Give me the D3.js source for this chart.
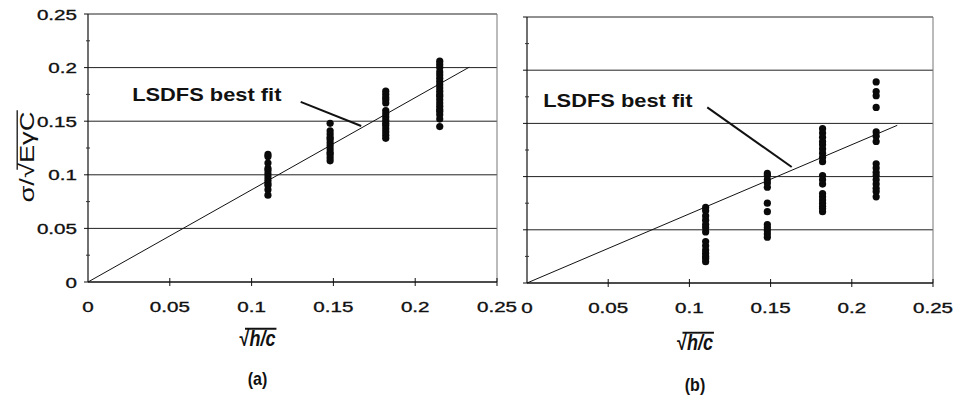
<!DOCTYPE html>
<html>
<head>
<meta charset="utf-8">
<script src="https://cdn.jsdelivr.net/npm/d3@7"></script>
<style>
body { margin: 0; background: #fff; }
text { font-family: "Liberation Sans", Arial, sans-serif; fill: #111; }
.tick-label { stroke: #111; stroke-width: 0.35; }
</style>
</head>
<body>
<div id="chart"></div>
<script>
// columns of sqrt(h/c) where the tests were run
const xColumns = [0.11, 0.148, 0.182, 0.215];

// panel (a) values, one list per column
const panelA = [
	[0.119, 0.117, 0.111, 0.106, 0.104, 0.101, 0.098, 0.095, 0.092, 0.090, 0.086, 0.081],
	[0.148, 0.141, 0.138, 0.135, 0.133, 0.130, 0.127, 0.124, 0.121, 0.119, 0.116, 0.113],
	[0.178, 0.175, 0.172, 0.170, 0.167, 0.160, 0.157, 0.154, 0.151, 0.148, 0.146, 0.143, 0.140, 0.137, 0.134],
	[0.206, 0.203, 0.200, 0.196, 0.193, 0.190, 0.187, 0.184, 0.181, 0.178, 0.175, 0.173, 0.170, 0.167, 0.164, 0.161, 0.159, 0.156, 0.152, 0.145]
];

// panel (b) values
const panelB = [
	[0.071, 0.068, 0.063, 0.059, 0.055, 0.052, 0.048, 0.039, 0.035, 0.031, 0.028, 0.025, 0.023, 0.020],
	[0.103, 0.101, 0.097, 0.094, 0.090, 0.075, 0.067, 0.055, 0.052, 0.049, 0.046, 0.043],
	[0.145, 0.141, 0.137, 0.133, 0.130, 0.126, 0.122, 0.118, 0.114, 0.101, 0.097, 0.093, 0.084, 0.081, 0.078, 0.075, 0.072, 0.070, 0.067],
	[0.189, 0.180, 0.176, 0.165, 0.142, 0.138, 0.133, 0.112, 0.108, 0.104, 0.101, 0.097, 0.093, 0.089, 0.086, 0.081]
];

// LSDFS best fit lines through the origin
const fitSlopes = [0.86, 0.65];
const fitEnds = [0.233, 0.228];

const xTicks = [0, 0.05, 0.1, 0.15, 0.2, 0.25];
const xTickLabels = ['0', '0.05', '0.1', '0.15', '0.2', '0.25'];
const yTicks = [0, 0.05, 0.1, 0.15, 0.2, 0.25];
const yTickLabels = ['0', '0.05', '0.1', '0.15', '0.2', '0.25'];
const panelNames = ['(a)', '(b)'];
const noteText = 'LSDFS best fit';

const width = 963, height = 403;
const stretch = 1.33;

const svg = d3.select('#chart').append('svg').attr('width', width).attr('height', height);

const panels = [
	{ data: panelA, x0: 88, x1: 497, y0: 282, y1: 14, showY: true,
		note: [0.027, 0.169], lead: [[0.130, 0.168], [0.167, 0.1455]], titleY: 346, nameY: 385 },
	{ data: panelB, x0: 527, x1: 933, y0: 283, y1: 17, showY: false,
		note: [0.010, 0.165], lead: [[0.111, 0.165], [0.163, 0.109]], titleY: 350, nameY: 391 }
];

// text with a square root sign whose bar runs over the part after it
function radicalText(g, before, under, size, bold, italicUnder){
	const t = g.append('text').attr('font-size', size).attr('font-weight', bold ? 'bold' : 'normal');
	t.append('tspan').text(before);
	t.append('tspan').text(under).attr('font-style', italicUnder ? 'italic' : 'normal');
	const node = t.node();
	const total = node.getComputedTextLength();
	const start = node.getSubStringLength(0, before.length - 1) + node.getSubStringLength(before.length - 1, 1) * 0.55;
	t.attr('x', -total / 2);
	g.append('line')
		.attr('x1', -total / 2 + start).attr('x2', total / 2 + 1)
		.attr('y1', -size * 0.8).attr('y2', -size * 0.8)
		.attr('stroke', '#111').attr('stroke-width', bold ? 1.6 : 1.3);
}

panels.forEach((p, k) => {
	const x = d3.scaleLinear().domain([0, 0.25]).range([p.x0, p.x1]);
	const y = d3.scaleLinear().domain([0, 0.25]).range([p.y0, p.y1]);
	const g = svg.append('g');

	// grid lines, the top one closes the box
	g.selectAll('.grid').data(yTicks.slice(1)).enter().append('line')
		.attr('x1', x(0)).attr('x2', x(0.25))
		.attr('y1', d => y(d)).attr('y2', d => y(d))
		.attr('stroke', '#222').attr('stroke-width', 1);

	g.append('line').attr('x1', x(0.25)).attr('x2', x(0.25)).attr('y1', y(0.25)).attr('y2', y(0))
		.attr('stroke', '#777').attr('stroke-width', 1);
	g.append('line').attr('x1', x(0)).attr('x2', x(0)).attr('y1', y(0.25)).attr('y2', y(0))
		.attr('stroke', '#111').attr('stroke-width', 1.2);
	g.append('line').attr('x1', x(0)).attr('x2', x(0.25)).attr('y1', y(0)).attr('y2', y(0))
		.attr('stroke', '#111').attr('stroke-width', 1.4);

	// ticks
	g.selectAll('.xt').data(xTicks.slice(1)).enter().append('line')
		.attr('x1', d => x(d)).attr('x2', d => x(d))
		.attr('y1', y(0) - 4).attr('y2', y(0) + 4)
		.attr('stroke', '#111');
	g.selectAll('.yt').data(yTicks).enter().append('line')
		.attr('x1', x(0) - 4).attr('x2', x(0))
		.attr('y1', d => y(d)).attr('y2', d => y(d))
		.attr('stroke', '#111');
	g.selectAll('.ym').data(d3.range(0.025, 0.25, 0.05)).enter().append('line')
		.attr('x1', x(0) - 2).attr('x2', x(0) + 2)
		.attr('y1', d => y(d)).attr('y2', d => y(d))
		.attr('stroke', '#333');

	// best fit
	g.append('line')
		.attr('x1', x(0)).attr('y1', y(0))
		.attr('x2', x(fitEnds[k])).attr('y2', y(fitEnds[k] * fitSlopes[k]))
		.attr('stroke', '#111').attr('stroke-width', 1);

	// points
	const pts = [];
	p.data.forEach((col, i) => col.forEach(v => pts.push([xColumns[i], v])));
	g.selectAll('circle').data(pts).enter().append('circle')
		.attr('cx', d => x(d[0])).attr('cy', d => y(d[1]))
		.attr('r', 3.6).attr('fill', '#0a0a0a');

	// annotation
	g.append('text')
		.attr('transform', `translate(${x(p.note[0])},${y(p.note[1])}) scale(1.15,1)`)
		.attr('font-size', 19).attr('font-weight', 'bold')
		.text(noteText);
	g.append('line')
		.attr('x1', x(p.lead[0][0])).attr('y1', y(p.lead[0][1]))
		.attr('x2', x(p.lead[1][0])).attr('y2', y(p.lead[1][1]))
		.attr('stroke', '#111').attr('stroke-width', 2);

	// tick labels
	g.selectAll('.xl').data(xTicks).enter().append('text')
		.attr('class', 'tick-label')
		.attr('transform', d => `translate(${x(d)},${y(0) + 30}) scale(${stretch},1)`)
		.attr('text-anchor', 'middle').attr('font-size', 15.5)
		.text((d, i) => xTickLabels[i]);
	if (p.showY) {
		g.selectAll('.yl').data(yTicks).enter().append('text')
			.attr('class', 'tick-label')
			.attr('transform', d => `translate(${x(0) - 11},${y(d) + 5.5}) scale(${stretch},1)`)
			.attr('text-anchor', 'end').attr('font-size', 15.5)
			.text((d, i) => yTickLabels[i]);

		const yt = g.append('g').attr('transform', `translate(34,157) rotate(-90) scale(1.3,1)`);
		radicalText(yt, 'σ/√', 'EγC', 21, false, false);
	}

	const xt = g.append('g').attr('transform', `translate(${(p.x0 + p.x1) / 2 - 35},${p.titleY}) scale(1.0,1.2)`);
	radicalText(xt, '√', 'h/c', 18, true, true);

	g.append('text')
		.attr('transform', `translate(${(p.x0 + p.x1) / 2 - 35},${p.nameY}) scale(1.0,1.2)`)
		.attr('text-anchor', 'middle').attr('font-size', 16).attr('font-weight', 'bold')
		.text(panelNames[k]);
});
</script>
</body>
</html>
